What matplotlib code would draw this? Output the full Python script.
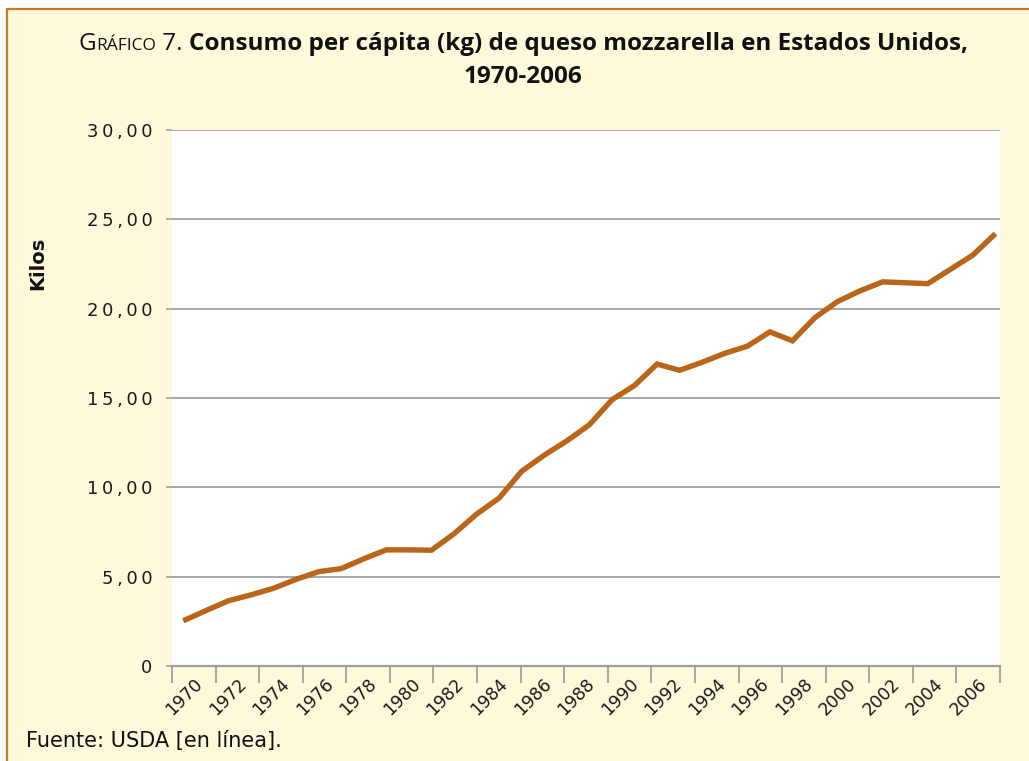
import matplotlib.pyplot as plt
import matplotlib.transforms as mtransforms
from matplotlib.patches import Rectangle
import numpy as np

# consumo per capita de mozzarella (kg), 1970-2006
years = list(range(1970, 2007))
kilos = [2.53, 3.10, 3.65, 3.98, 4.35, 4.85, 5.28, 5.45, 6.00, 6.50,
         6.50, 6.48, 7.40, 8.50, 9.40, 10.90, 11.80, 12.60, 13.50, 14.90,
         15.70, 16.90, 16.55, 17.00, 17.50, 17.90, 18.70, 18.20, 19.50, 20.40,
         21.00, 21.50, 21.45, 21.40, 22.20, 23.00, 24.20]
tick_years = years[::2]
yticks = [0, 5, 10, 15, 20, 25, 30]

W, H = 1029, 761
cream = '#fff9dc'
border = '#c8782a'
line_col = '#b9651a'
grid_col = '#a0a0a0'

fig = plt.figure(figsize=(W / 100, H / 100), dpi=100)
fig.patch.set_facecolor('white')

panel = Rectangle((7 / W, -0.05), 1.2, (H - 9) / H + 0.05, transform=fig.transFigure,
                  facecolor=cream, edgecolor=border, lw=1.6, zorder=-10)
fig.patches.append(panel)

ax = fig.add_axes([172 / W, 1 - 666 / H, 828 / W, 536 / H])
ax.set_facecolor('white')
x = np.arange(len(years))
ax.plot(x, kilos, color=line_col, lw=3.9, solid_capstyle='butt', solid_joinstyle='miter', zorder=3)

xmin, xmax = -0.5, 36.2
ax.set_xlim(xmin, xmax)
ax.set_ylim(0, 30)

for s in ['top', 'right', 'left']:
    ax.spines[s].set_visible(False)
ax.spines['bottom'].set_color(grid_col)
ax.spines['bottom'].set_linewidth(1.6)

# y axis
ax.set_yticks(yticks)
ylabs = ['0'] + ['\u2009'.join('%d,00' % v) for v in yticks[1:]]
ax.set_yticklabels(ylabs, fontsize=13, color='#1a1a1a', family='DejaVu Sans')
ax.tick_params(axis='y', length=4, width=1.2, color=grid_col, pad=10)
ax.yaxis.grid(True, color=grid_col, lw=1.3)
ax.set_axisbelow(True)

# x axis: 20 ticks, labels in between
edges = np.linspace(xmin, xmax, 20)
centers = (edges[:-1] + edges[1:]) / 2
ax.set_xticks(edges)
ax.set_xticklabels([])
ax.set_xticks(centers, minor=True)
ax.set_xticklabels([str(y) for y in tick_years], minor=True, rotation=45,
                   ha='right', va='center', rotation_mode='anchor',
                   fontsize=12.5, color='#1a1a1a')
ax.tick_params(axis='x', which='major', length=12, width=1.3, color=grid_col)
ax.tick_params(axis='x', which='minor', length=0, pad=11)
off = mtransforms.ScaledTranslation(6 / 100, 0, fig.dpi_scale_trans)
for lab in ax.get_xticklabels(minor=True):
    lab.set_transform(lab.get_transform() + off)

fig.text(38 / W, 1 - 263 / H, 'Kilos', rotation=90, fontsize=14, fontweight='bold',
         ha='center', va='center', color='#111111')

# title with small caps
renderer = fig.canvas.get_renderer()
pieces = [('G', 17.5, 'normal'), ('RÁFICO', 12.5, 'normal'), (' 7. ', 17.5, 'normal'),
          ('Consumo per cápita (kg) de queso mozzarella en Estados Unidos,', 17.5, 'bold')]
texts = []
total = 0
for s, fs, fw in pieces:
    t = fig.text(0, 1 - 50 / H, s, fontsize=fs, fontweight=fw, family='Open Sans',
                 ha='left', va='baseline', color='#111111')
    w = t.get_window_extent(renderer).width
    texts.append((t, w))
    total += w
xpos = 523 - total / 2
for t, w in texts:
    t.set_x(xpos / W)
    xpos += w
fig.text(523 / W, 1 - 83 / H, '1970-2006', fontsize=17.5, fontweight='bold', family='Open Sans',
         ha='center', va='baseline', color='#111111')

fig.text(26 / W, 1 - 747 / H, 'Fuente: USDA [en línea].', fontsize=15, family='DejaVu Sans',
         ha='left', va='baseline', color='#111111')

fig.savefig('out.png', dpi=100, facecolor=fig.get_facecolor())
